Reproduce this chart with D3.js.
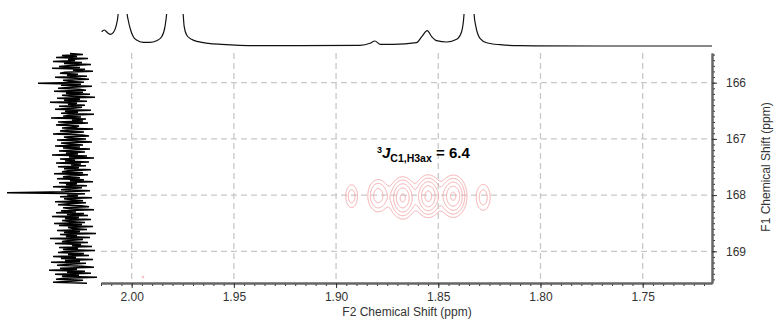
<!DOCTYPE html>
<html>
<head>
<meta charset="utf-8">
<script src="https://cdn.jsdelivr.net/npm/d3@7"></script>
<style>
  body { margin: 0; background: #fff; }
  text { font-family: "Liberation Sans", Arial, sans-serif; }
</style>
</head>
<body>
<svg id="chart" width="775" height="320"></svg>
<script>
// axis ranges (ppm)
const f2Domain = [2.0150, 1.7161]
const f1Domain = [165.472, 169.564]
const f2Major = [2.00, 1.95, 1.90, 1.85, 1.80, 1.75]
const f1Major = [166, 167, 168, 169]

// 2D cross peaks: centre (F2, F1), height, widths
const peakF2 = [1.8924, 1.8794, 1.8674, 1.8549, 1.8427, 1.8280, 1.9945]
const peakF1 = [168.02, 168.01, 168.05, 168.02, 168.02, 168.04, 169.46]
const peakHeight = [0.30, 0.50, 0.95, 1.00, 0.95, 0.30, 0.125]
const peakWidthF2 = [0.0021, 0.0030, 0.0032, 0.0032, 0.0033, 0.0025, 0.0017]
const peakWidthF1 = [0.15, 0.17, 0.185, 0.185, 0.185, 0.17, 0.06]
const contourLevels = [0.12, 0.22, 0.38, 0.60, 0.88]

// top 1H trace (clipped above)
const topPpm = [2.0147, 2.0134, 2.0115, 2.0103, 2.0090, 2.0077, 2.0066, 2.0044, 2.0022, 2.0017,
  2.0005, 1.9992, 1.9976, 1.9943, 1.9911, 1.9878, 1.9853, 1.9837, 1.9829, 1.9788,
  1.9748, 1.9743, 1.9731, 1.9707, 1.9674, 1.9625, 1.9560, 1.9372, 1.9177, 1.8883,
  1.8834, 1.8810, 1.8785, 1.8720, 1.8606, 1.8581, 1.8554, 1.8532, 1.8508, 1.8459,
  1.8410, 1.8386, 1.8374, 1.8350, 1.8325, 1.8316, 1.8296, 1.8263, 1.8198, 1.8100,
  1.7709, 1.7161]
const topIntensity = [14.3, 16, 12.7, 11.7, 13.3, 19.3, 32, 200, 32, 26,
  16, 9.3, 6, 3.7, 3.7, 5.3, 9.3, 19.3, 32, 300,
  32, 19.3, 11, 6.7, 4.3, 2.7, 1.7, 0.3, 0.3, 0.7,
  2.7, 5, 1.7, 1.7, 3.3, 9.3, 15.3, 9.3, 5.3, 4,
  6.7, 14.3, 32, 200, 32, 19.3, 7.7, 3.3, 1.3, 0.3,
  0, 0]

// left 13C projection: start, step and intensities
const projStart = 165.48
const projStep = 0.0177
const projIntensity = [4, -9, 12, -3, 18, -14, 6, -1, 21, -8,
  10, -17, 3, 15, -6, 22, -11, 1, -19, 9,
  14, -4, 7, -13, 19, -2, -15, 11, 5, -10,
  36, -7, 13, -18, 2, 16, -5, -12, 20, -9,
  8, -16, 12, 3, -21, 17, -6, 10, -13, 24,
  -3, 6, -11, 15, -8, 1, 19, -17, 9, -4,
  13, -20, 5, 11, -7, 23, -12, 2, -9, 16,
  -14, 8, 18, -5, -2, 12, -19, 7, 14, -10,
  3, 21, -8, -15, 10, 6, -12, 17, -3, -18,
  13, 4, -9, 19, -6, 11, -16, 1, 15, -11,
  8, -4, 22, -13, 5, -20, 14, -1, 9, -15,
  18, -7, 3, -12, 16, -5, 10, -17, 6, 12,
  -9, 20, -14, 2, 11, -6, 17, -10, 4, -19,
  15, -3, 8, -13, 21, -8, 5, 13, -16, 9,
  67, -11, 7, -4, 14, -18, 10, 2, -9, 19,
  -12, 6, 16, -7, -15, 11, 3, -20, 13, -2,
  18, -10, 7, -14, 22, -5, 9, -17, 12, 4,
  -11, 20, -8, 15, -19, 6, 1, -13, 17, -6,
  10, -22, 14, -3, 8, -16, 24, -9, 5, 12,
  -14, 19, -7, 2, -18, 15, -4, 11, -21, 8,
  16, -10, 6, -15, 21, -2, 13, -19, 9, -6,
  23, -12, 4, 17, -8, -20, 14, -3, 25, -11,
  7, -17, 19, -5, 12, -23, 10, 18, -9, 3,
  21, -13]

const plotLeft = 101, plotRight = 712, plotTop = 53, plotBottom = 283

const svg = d3.select("#chart")
const x = d3.scaleLinear().domain(f2Domain).range([plotLeft, plotRight])
const y = d3.scaleLinear().domain(f1Domain).range([plotTop, plotBottom])

// grid
const grid = svg.append("g").attr("stroke", "#c8c8c8").attr("stroke-width", 1.3)
  .attr("stroke-dasharray", "6,4")
grid.selectAll("line.v").data(f2Major).join("line").attr("class", "v")
  .attr("x1", d => x(d)).attr("x2", d => x(d)).attr("y1", plotTop).attr("y2", plotBottom)
grid.selectAll("line.h").data(f1Major).join("line").attr("class", "h")
  .attr("x1", plotLeft).attr("x2", plotRight).attr("y1", d => y(d)).attr("y2", d => y(d))

// contours (cross peaks summed on a 1px grid)
const nx = plotRight - plotLeft, ny = plotBottom - plotTop
const stepF2 = (f2Domain[1] - f2Domain[0]) / nx
const stepF1 = (f1Domain[1] - f1Domain[0]) / ny
const values = new Float64Array(nx * ny)
for (let j = 0; j < ny; j++) {
  const f1 = f1Domain[0] + (j + 0.5) * stepF1
  for (let i = 0; i < nx; i++) {
    const f2 = f2Domain[0] + (i + 0.5) * stepF2
    let v = 0
    for (let k = 0; k < peakF2.length; k++) {
      const dx = (f2 - peakF2[k]) / peakWidthF2[k]
      const dy = (f1 - peakF1[k]) / peakWidthF1[k]
      v += peakHeight[k] * Math.exp(-0.5 * (dx * dx + dy * dy))
    }
    values[j * nx + i] = v
  }
}
const contours = d3.contours().size([nx, ny]).thresholds(contourLevels)(values)
const toPlot = d3.geoTransform({
  point: function (gx, gy) {
    this.stream.point(x(f2Domain[0] + gx * stepF2), y(f1Domain[0] + gy * stepF1))
  }
})
svg.append("g").selectAll("path").data(contours).join("path")
  .attr("d", d3.geoPath(toPlot))
  .attr("fill", "none").attr("stroke", "#f5acac").attr("stroke-width", 1)

// top trace
const yTop = d3.scaleLinear().domain([0, 32]).range([46, 14])
svg.append("clipPath").attr("id", "topClip").append("rect")
  .attr("x", plotLeft).attr("y", 14).attr("width", plotRight - plotLeft).attr("height", 40)
svg.append("path")
  .datum(d3.zip(topPpm, topIntensity))
  .attr("clip-path", "url(#topClip)")
  .attr("d", d3.line().x(d => x(d[0])).y(d => yTop(d[1])).curve(d3.curveMonotoneX))
  .attr("fill", "none").attr("stroke", "#111").attr("stroke-width", 1.2)

// left projection
const xProj = d3.scaleLinear().domain([0, 67]).range([74, 7])
svg.append("path")
  .datum(projIntensity.map((v, i) => [projStart + i * projStep, v]))
  .attr("d", d3.line().x(d => xProj(d[1])).y(d => y(d[0])))
  .attr("fill", "none").attr("stroke", "#000").attr("stroke-width", 1.5)

// axes
const f2Minor = d3.range(0, 60).map(i => +(2.015 - i * 0.005).toFixed(3)).filter(d => d >= 1.7161)
const f1Minor = d3.range(0, 41).map(i => +(165.5 + i * 0.1).toFixed(1)).filter(d => d <= 169.564)

function styleAxis(g) {
  g.select(".domain").attr("stroke", "#666").attr("stroke-width", 2)
  g.selectAll(".tick line").attr("stroke", "#333")
  g.selectAll("text").attr("fill", "#333").attr("font-size", 12)
    .attr("font-family", "'Liberation Sans', Arial, sans-serif")
}

svg.append("g").attr("transform", `translate(0,${plotBottom})`)
  .call(d3.axisBottom(x).tickValues(f2Minor).tickSize(3).tickSizeOuter(0).tickFormat(""))
  .call(styleAxis)
svg.append("g").attr("transform", `translate(0,${plotBottom})`)
  .call(d3.axisBottom(x).tickValues(f2Major).tickSize(5).tickPadding(4).tickSizeOuter(0)
    .tickFormat(d3.format(".2f")))
  .call(styleAxis)

svg.append("g").attr("transform", `translate(${plotRight},0)`)
  .call(d3.axisRight(y).tickValues(f1Minor).tickSize(3).tickSizeOuter(0).tickFormat(""))
  .call(styleAxis)
svg.append("g").attr("transform", `translate(${plotRight},0)`)
  .call(d3.axisRight(y).tickValues(f1Major).tickSize(5).tickPadding(9).tickSizeOuter(0)
    .tickFormat(d3.format("d")))
  .call(styleAxis)

svg.append("text").attr("x", 407).attr("y", 316).attr("text-anchor", "middle")
  .attr("font-size", 12).attr("fill", "#333").text("F2 Chemical Shift (ppm)")
svg.append("text").attr("transform", "translate(770,167) rotate(-90)")
  .attr("text-anchor", "middle").attr("font-size", 12).attr("fill", "#333")
  .text("F1 Chemical Shift (ppm)")

// coupling label
const lab = svg.append("text").attr("x", 377).attr("y", 158)
  .attr("font-weight", "bold").attr("fill", "#000")
lab.append("tspan").attr("font-size", 9).attr("dy", -5).text("3")
lab.append("tspan").attr("font-size", 15).attr("font-style", "italic").attr("dy", 5).text("J")
lab.append("tspan").attr("font-size", 10.5).attr("dy", 4).text("C1,H3ax")
lab.append("tspan").attr("font-size", 15).attr("dy", -4).text(" = 6.4")
</script>
</body>
</html>
